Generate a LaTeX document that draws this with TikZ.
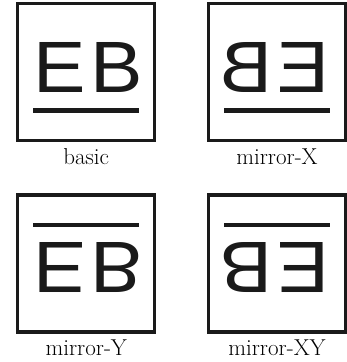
\documentclass[tikz,border=0pt]{standalone}
\usepackage{fontspec}
\newfontfamily\ebfont{Liberation Sans}
\usetikzlibrary{positioning}
\definecolor{ink}{HTML}{1A1A1A}

\begin{document}
\begin{tikzpicture}[x=1pt,y=1pt,
  frame/.style={draw=ink,line width=3.3pt},
  letters/.style={inner sep=0pt,anchor=base,transform shape,text=ink,
    font=\ebfont\fontsize{72.7}{72.7}\selectfont},
  caption/.style={inner sep=0pt,anchor=base,font=\fontsize{23}{26}\selectfont}]
  \useasboundingbox (0,0) rectangle (347,362);
  \def\half{68.5}
  % one box per mirror mode
  \foreach \cx/\cy/\sx/\sy/\nm/\txt in {%
    86.25/290/1/1/b/basic,
    277/290/-1/1/x/mirror-X,
    86.25/98.5/1/-1/y/mirror-Y,
    277/98.5/-1/-1/xy/mirror-XY%
  }{
    \draw[frame] (\cx-\half,\cy-\half) rectangle (\cx+\half,\cy+\half);
    \begin{scope}[shift={(\cx,\cy)},xscale=\sx,yscale=\sy]
      \node[letters] (eb-\nm) at (2,-21) {\scalebox{1.08}[1]{E\kern4pt B}};
      \fill[ink] (-53.25,-36.25) rectangle (52.75,-40.75);
    \end{scope}
    \node[caption] (lbl-\nm) at (\cx,\cy-92.5) {\txt};
  }
\end{tikzpicture}
\end{document}
